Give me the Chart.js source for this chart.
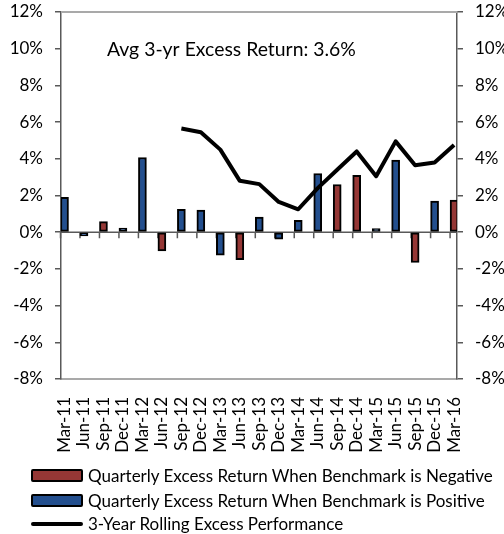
<!DOCTYPE html>
<html>
<head>
<meta charset="utf-8">
<script src="https://cdn.jsdelivr.net/npm/chart.js@4.4.1/dist/chart.umd.min.js"></script>
<style>
    html, body { margin: 0; padding: 0; background: #fff; }
    #wrap { position: relative; width: 504px; height: 534px; font-family: Lato, sans-serif; }
    #legend { position: absolute; left: 0; top: 0; width: 504px; height: 534px; pointer-events: none; }
    .item { position: absolute; left: 31px; display: flex; align-items: center; font-size: 17px; color: #000; white-space: nowrap; }
    .box { width: 48px; height: 9px; border: 2px solid #000; border-radius: 2px; margin-right: 5px; }
    .ln { width: 52px; height: 4px; background: #000; border-radius: 2px; margin-right: 5px; }
</style>
</head>
<body>
<div id="wrap">
    <canvas id="chart" width="504" height="534"></canvas>
    <div id="legend"></div>
</div>
<script>
// data (percent)
const quarters = [
    "Mar-11", "Jun-11", "Sep-11", "Dec-11", "Mar-12", "Jun-12", "Sep-12",
    "Dec-12", "Mar-13", "Jun-13", "Sep-13", "Dec-13", "Mar-14", "Jun-14",
    "Sep-14", "Dec-14", "Mar-15", "Jun-15", "Sep-15", "Dec-15", "Mar-16",
];
const benchNegative = [
    null, null, 0.58, null, null, -1.02, null, null, null, -1.5, null,
    null, null, null, 2.6, 3.1, null, null, -1.65, null, 1.75,
];
const benchPositive = [
    1.9, -0.2, null, 0.23, 4.07, null, 1.25, 1.2, -1.25, null, 0.83,
    -0.38, 0.65, 3.2, null, null, 0.2, 3.93, null, 1.7, null,
];
const rolling3yr = [
    null, null, null, null, null, null, 5.65, 5.45, 4.5, 2.8, 2.62,
    1.65, 1.25, 2.4, 3.4, 4.4, 3.05, 4.95, 3.65, 3.8, 4.75,
];
const yTicks = [-8, -6, -4, -2, 0, 2, 4, 6, 8, 10, 12];
const avgText = "Avg 3-yr Excess Return: 3.6%";

const legendLabels = [
    "Quarterly Excess Return When Benchmark is Negative",
    "Quarterly Excess Return When Benchmark is Positive",
    "3-Year Rolling Excess Performance",
];
const RED = "#953735";
const BLUE = "#234f8e";
const AXIS = "#595959";
const BORDER = "#a9a9a9";
const BAR_W = 8;

const points = (arr) => arr.map((v, i) => ({ x: i, y: v }));
const font = { family: "Lato", size: 17 };

// zero axis with tick marks, top frame line and the average note
const extras = {
    id: "extras",
    beforeDatasetsDraw(chart) {
        const { ctx, chartArea: a, scales } = chart;
        const y0 = scales.y.getPixelForValue(0);
        ctx.save();
        ctx.strokeStyle = BORDER;
        ctx.lineWidth = 2;
        ctx.beginPath();
        ctx.moveTo(a.left, a.top);
        ctx.lineTo(a.right, a.top);
        ctx.stroke();

        ctx.strokeStyle = AXIS;
        ctx.lineWidth = 1.5;
        ctx.beginPath();
        ctx.moveTo(a.left, y0);
        ctx.lineTo(a.right, y0);
        quarters.forEach((q, i) => {
            const x = scales.x.getPixelForValue(i) - BAR_W / 2;
            ctx.moveTo(x, y0);
            ctx.lineTo(x, y0 + 6);
        });
        ctx.stroke();

        ctx.fillStyle = "#000";
        ctx.font = "19.4px Lato";
        ctx.textBaseline = "middle";
        ctx.fillText(avgText, a.left + 46, scales.y.getPixelForValue(10) + 1);
        ctx.restore();
    },
};

const yAxis = (pos, w) => ({
    type: "linear",
    position: pos,
    min: -8,
    max: 12,
    afterBuildTicks: (s) => { s.ticks = yTicks.map((v) => ({ value: v })); },
    afterFit: (s) => {
        s.width = w;
        s.paddingTop = 0;
        s.paddingBottom = 0;
    },
    grid: { drawOnChartArea: false, drawTicks: true, tickLength: 6, color: AXIS, lineWidth: 1.5 },
    border: { color: AXIS, width: 1.5 },
    ticks: { font, color: "#000", padding: 12, callback: (v) => v + "%" },
});

new Chart(document.getElementById("chart"), {
    type: "bar",
    data: {
        datasets: [
            {
                type: "line",
                label: legendLabels[2],
                data: points(rolling3yr),
                borderColor: "#000",
                borderWidth: 4,
                pointRadius: 0,
                borderJoinStyle: "round",
                tension: 0,
                order: 0,
            },
            {
                label: legendLabels[0],
                data: points(benchNegative),
                backgroundColor: RED,
                borderColor: "#000",
                borderWidth: 2,
                borderSkipped: false,
                barThickness: BAR_W,
                grouped: false,
                order: 1,
            },
            {
                label: legendLabels[1],
                data: points(benchPositive),
                backgroundColor: BLUE,
                borderColor: "#000",
                borderWidth: 2,
                borderSkipped: false,
                barThickness: BAR_W,
                grouped: false,
                order: 1,
            },
        ],
    },
    options: {
        responsive: false,
        animation: false,
        layout: { padding: { top: 12, left: 0, right: 0, bottom: 0 } },
        plugins: { legend: { display: false }, tooltip: { enabled: false } },
        scales: {
            x: {
                type: "linear",
                offset: false,
                min: -0.18,
                max: 20.15,
                afterBuildTicks: (s) => { s.ticks = quarters.map((q, i) => ({ value: i })); },
                afterFit: (s) => { s.height = 155; },
                grid: { display: false },
                border: { color: BORDER, width: 2 },
                ticks: {
                    autoSkip: false,
                    minRotation: 90,
                    maxRotation: 90,
                    padding: 10,
                    font,
                    color: "#000",
                    callback: (v, i) => quarters[i],
                },
            },
            y: yAxis("left", 61),
            y2: yAxis("right", 47),
        },
    },
    plugins: [extras],
});

// legend
const legendEl = document.getElementById("legend");
const rows = [
    { top: 465, sample: `<span class="box" style="background:${RED}"></span>` },
    { top: 490, sample: `<span class="box" style="background:${BLUE}"></span>` },
    { top: 513, sample: `<span class="ln"></span>` },
];
rows.forEach((r, i) => {
    legendEl.innerHTML += `<div class="item" style="top:${r.top}px">${r.sample}<span>${legendLabels[i]}</span></div>`;
});
</script>
</body>
</html>
